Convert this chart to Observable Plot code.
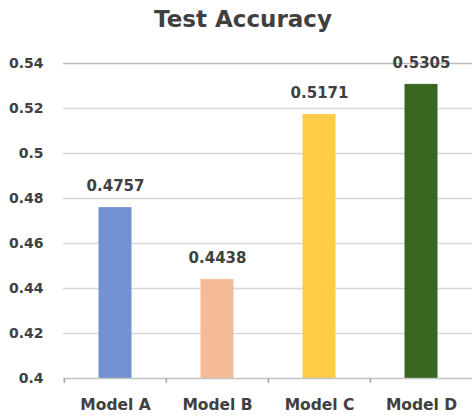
<!DOCTYPE html>
<html>
<head>
<meta charset="utf-8">
<script src="https://cdn.jsdelivr.net/npm/d3@7"></script>
<script src="https://cdn.jsdelivr.net/npm/@observablehq/plot@0.6"></script>
<style>
  html, body { margin: 0; padding: 0; background: #fff; }
  #title { height: 40px; line-height: 38px; text-align: center; font-family: "DejaVu Sans", sans-serif; font-weight: bold; font-size: 23px; color: #404040; padding-left: 14px; box-sizing: border-box; }
  #chart svg { display: block; }
</style>
</head>
<body>
<div id="title">Test Accuracy</div>
<div id="chart"></div>
<script>
const models = ["Model A", "Model B", "Model C", "Model D"];
const accuracy = [0.4757, 0.4438, 0.5171, 0.5305];
const colors = ["#7292D2", "#F4BB96", "#FFCC47", "#38661F"];
const yTicks = [0.4, 0.42, 0.44, 0.46, 0.48, 0.5, 0.52, 0.54];

const data = models.map((m, i) => ({model: m, acc: accuracy[i]}));
const fmt = v => String(v);

const W = 472, ML = 63, MR = 0;
const xOpts = {domain: models, paddingInner: 0.69, paddingOuter: 0.345, label: null};
const xScale = Plot.scale({x: {type: "band", ...xOpts, range: [ML, W - MR]}});
const half = xScale.step / 2;

const plot = Plot.plot({
  width: W,
  height: 377,
  marginTop: 23,
  marginBottom: 39,
  marginLeft: ML,
  marginRight: MR,
  style: {fontFamily: "'DejaVu Sans', sans-serif", color: "#404040", background: "#fff"},
  x: xOpts,
  y: {domain: [0.4, 0.54], label: null},
  color: {domain: models, range: colors},
  marks: [
    Plot.ruleY(yTicks.filter(t => t > 0.4 && t < 0.54), {stroke: "#d6d6d6", strokeWidth: 1.5}),
    Plot.ruleY([0.54], {stroke: "#bcbcbc", strokeWidth: 1.5}),
    Plot.barY(data, {x: "model", y1: 0.4, y2: "acc", fill: "model", stroke: "model", strokeWidth: 1}),
    Plot.ruleY([0.4], {stroke: "#c4c4c4", strokeWidth: 1.5}),
    Plot.ruleX(models, {x: d => d, dx: -half, y1: () => 0.4, y2: () => 0.4, insetTop: 5, stroke: "#a8a8a8", strokeWidth: 1.5}),
    Plot.axisY({ticks: yTicks, tickFormat: fmt, tickSize: 0, tickPadding: 20, fontSize: 14, fontWeight: "bold", fill: "#404040"}),
    Plot.axisX({tickSize: 0, tickPadding: 20, fontSize: 15.5, fontWeight: "bold", fill: "#404040"}),
    Plot.text(data, {x: "model", y: "acc", text: d => d.acc.toFixed(4), lineAnchor: "bottom", dy: -17, fontSize: 15, fontWeight: "bold", fill: "#404040"})
  ]
});

document.getElementById("chart").appendChild(plot);
</script>
</body>
</html>
